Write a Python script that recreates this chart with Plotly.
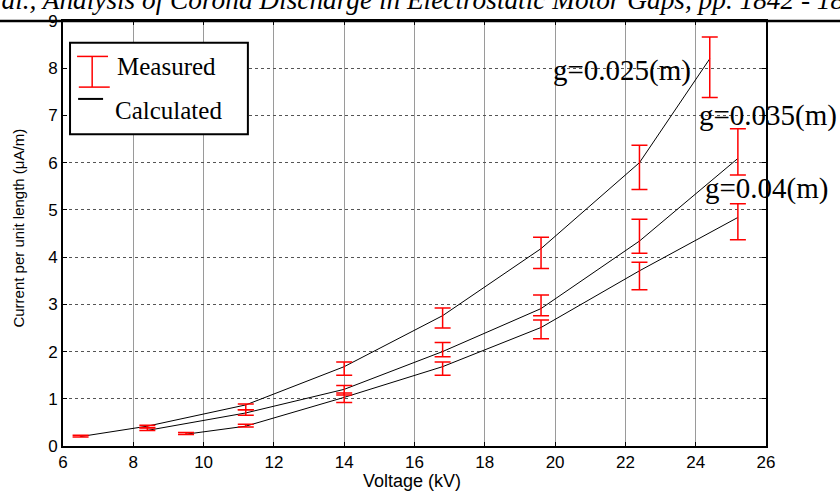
import plotly.graph_objects as go

# ---- data ----
calc_025_x = [6.5, 8.4, 11.2, 14.0, 16.8, 19.6, 22.4, 24.4]
calc_025_y = [0.20, 0.42, 0.87, 1.68, 2.76, 4.18, 6.00, 8.20]
calc_035_x = [8.4, 11.2, 14.0, 16.8, 19.6, 22.4, 25.2]
calc_035_y = [0.33, 0.70, 1.20, 2.00, 2.91, 4.34, 6.09]
calc_04_x = [9.5, 11.2, 14.0, 16.8, 19.6, 22.4, 25.2]
calc_04_y = [0.25, 0.42, 1.03, 1.68, 2.51, 3.71, 4.84]

meas_025_y = [0.21, 0.41, 0.83, 1.64, 2.71, 4.09, 5.90, 8.02]
meas_025_err = [0.02, 0.03, 0.06, 0.14, 0.21, 0.33, 0.47, 0.64]
meas_035_y = [0.36, 0.71, 1.18, 2.04, 2.98, 4.44, 6.23]
meas_035_err = [0.03, 0.06, 0.10, 0.15, 0.22, 0.36, 0.49]
meas_04_y = [0.265, 0.43, 1.02, 1.64, 2.47, 3.60, 4.75]
meas_04_err = [0.02, 0.03, 0.10, 0.14, 0.20, 0.29, 0.38]

x_ticks = [6, 8, 10, 12, 14, 16, 18, 20, 22, 24, 26]
y_ticks = [0, 1, 2, 3, 4, 5, 6, 7, 8, 9]
curve_labels = ["g=0.025(m)", "g=0.035(m)", "g=0.04(m)"]
legend_labels = ["Measured", "Calculated"]
x_title = "Voltage (kV)"
y_title = "Current per unit length (μA/m)"
title_text = "et al., Analysis of Corona Discharge in Electrostatic Motor Gaps, pp. 1842 - 1850"

fig = go.Figure()

for xs, ys in [(calc_025_x, calc_025_y), (calc_035_x, calc_035_y), (calc_04_x, calc_04_y)]:
    fig.add_trace(go.Scatter(x=xs, y=ys, mode="lines",
                             line=dict(color="black", width=1), showlegend=False))

for xs, ys, es in [(calc_025_x, meas_025_y, meas_025_err),
                   (calc_035_x, meas_035_y, meas_035_err),
                   (calc_04_x, meas_04_y, meas_04_err)]:
    fig.add_trace(go.Scatter(x=xs, y=ys, mode="markers",
                             marker=dict(size=1, color="rgba(0,0,0,0)"),
                             error_y=dict(type="data", array=es, color="#ff0000",
                                          thickness=1.5, width=8),
                             showlegend=False))

serif = "Liberation Serif, Times New Roman, serif"
sans = "Liberation Sans, Arial, sans-serif"

PW, PH, L, T = 703, 432, 63, 14  # plot area in pixels


def px(xp):
    return (xp - L) / PW


def py(yp):
    return (T + PH - yp) / PH


def label(x, y, text, size, family, xref="paper", yref="paper", xanchor="center",
          yanchor="middle", angle=0):
    return dict(x=x, y=y, xref=xref, yref=yref, text=text, showarrow=False,
                xanchor=xanchor, yanchor=yanchor, textangle=angle,
                font=dict(family=family, size=size, color="black"))


annotations = [
    label(px(622), py(64), curve_labels[0], 29, serif),
    label(px(768), py(110), curve_labels[1], 29, serif),
    label(px(766), py(184), curve_labels[2], 29, serif),
    label(px(115), py(60), legend_labels[0], 25, serif, xanchor="left"),
    label(px(113), py(105), legend_labels[1], 25, serif, xanchor="left"),
    label(px(19), py(225), y_title, 15, sans, angle=-90),
    label(px(412), py(482), x_title, 18, sans),
    label(px(-27), py(10), "<i>" + title_text + "</i>", 27.3, serif,
          xanchor="left", yanchor="bottom"),
]

shapes = [
    # legend box
    dict(type="rect", xref="x", yref="y", x0=6.2, x1=11.26, y0=6.6, y1=8.54,
         line=dict(color="black", width=2), fillcolor="white", layer="above"),
    # legend error bar symbol
    dict(type="line", xref="x", yref="y", x0=6.83, x1=6.83, y0=7.6, y1=8.25,
         line=dict(color="#ff0000", width=1.5), layer="above"),
    dict(type="line", xref="x", yref="y", x0=6.4, x1=7.28, y0=8.25, y1=8.25,
         line=dict(color="#ff0000", width=1.5), layer="above"),
    dict(type="line", xref="x", yref="y", x0=6.45, x1=7.33, y0=7.6, y1=7.6,
         line=dict(color="#ff0000", width=1.5), layer="above"),
    # legend line symbol
    dict(type="line", xref="x", yref="y", x0=6.43, x1=7.14, y0=7.35, y1=7.35,
         line=dict(color="black", width=2), layer="above"),
    # header rule across page
    dict(type="line", xref="paper", yref="paper", x0=px(0), x1=px(840), y0=1.0, y1=1.0,
         line=dict(color="black", width=2.5), layer="above"),
]

fig.update_layout(
    width=840, height=491,
    margin=dict(l=63, r=74, t=14, b=45),
    paper_bgcolor="white", plot_bgcolor="white",
    showlegend=False,
    annotations=annotations,
    shapes=shapes,
    font=dict(family=sans, color="black"),
)

fig.update_xaxes(range=[6, 26], tickvals=x_ticks, ticktext=[str(v) for v in x_ticks],
                 showgrid=True, gridcolor="#9a9a9a", gridwidth=1,
                 showline=True, linecolor="black", linewidth=2, mirror="ticks",
                 ticks="inside", ticklen=4, tickcolor="black",
                 tickfont=dict(family=sans, size=17, color="black"),
                 zeroline=False)
fig.update_yaxes(range=[0, 9], tickvals=y_ticks, ticktext=[str(v) for v in y_ticks],
                 showgrid=True, gridcolor="#555555", gridwidth=1, griddash="dot",
                 showline=True, linecolor="black", linewidth=2, mirror="ticks",
                 ticks="inside", ticklen=4, tickcolor="black",
                 tickfont=dict(family=sans, size=17, color="black"),
                 zeroline=False)

fig.write_html("out.html")
